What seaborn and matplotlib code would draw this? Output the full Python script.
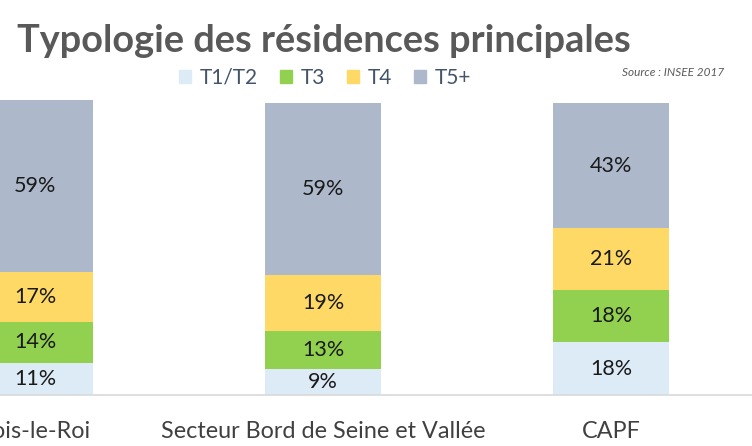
import matplotlib
matplotlib.use("Agg")
import matplotlib.pyplot as plt
import matplotlib.patches as mpatches
import seaborn as sns
import numpy as np
import pandas as pd

# data
zones = ["Bois-le-Roi", "Secteur Bord de Seine et Vallée", "CAPF"]
types = ["T1/T2", "T3", "T4", "T5+"]
t1_t2 = [11, 9, 18]
t3 = [14, 13, 18]
t4 = [17, 19, 21]
t5 = [59, 59, 43]
colors = ["#DDEBF7", "#92D050", "#FFD966", "#ADB9CA"]

sns.set_theme(style="white")
plt.rcParams["font.family"] = ["Lato", "DejaVu Sans"]

fig = plt.figure(figsize=(7.52, 4.46), dpi=100)
scale = 2.923  # px per percent
ymax = 110
ax = fig.add_axes([0, 51 / 446, 1, ymax * scale / 446])

values = np.array([t1_t2, t3, t4, t5])
cum = values.cumsum(axis=0)

# draw tallest stack first, then the lower ones on top of it
for i in range(len(types) - 1, -1, -1):
    df = pd.DataFrame({"zone": zones, "val": cum[i]})
    sns.barplot(data=df, x="zone", y="val", color=colors[i], saturation=1,
                width=0.4, errorbar=None, linewidth=0, ax=ax)

for j in range(len(zones)):
    for i in range(len(types)):
        mid = cum[i][j] - values[i][j] / 2
        ax.text(j, mid, f"{values[i][j]}%", ha="center", va="center",
                fontsize=15.5, color="#1A1A1A")

ax.set_xlim(-35 / 288, (752 - 35) / 288)
ax.set_ylim(0, ymax)
ax.set_xlabel("")
ax.set_ylabel("")
ax.set_yticks([])
ax.tick_params(axis="x", length=0, pad=19, labelsize=16.8, labelcolor="#404040")
for s in ["top", "right", "left"]:
    ax.spines[s].set_visible(False)
ax.spines["bottom"].set_color("#D9D9D9")
ax.spines["bottom"].set_linewidth(1.2)

fig.text(17 / 752, 1 - 52 / 446, "Typologie des résidences principales",
         fontsize=27.3, fontweight="bold", color="#595959", ha="left", va="baseline")

handles = [mpatches.Patch(color=c, label=t) for c, t in zip(colors, types)]
fig.legend(handles=handles, loc="center", ncol=4, frameon=False,
           bbox_to_anchor=(325 / 752, 1 - 78 / 446), fontsize=15,
           labelcolor="#44546A", handlelength=0.6, handleheight=0.6,
           handletextpad=0.4, columnspacing=1.05, borderaxespad=0)

fig.text(622 / 752, 1 - 72 / 446, "Source : INSEE 2017", fontsize=8.5,
         style="italic", color="#595959", ha="left", va="center")

fig.savefig("out.png", dpi=100)
